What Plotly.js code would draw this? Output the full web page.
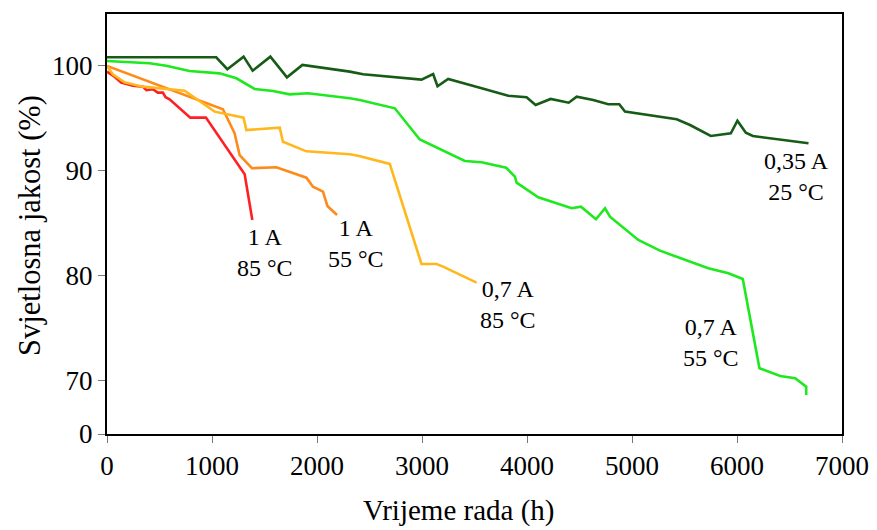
<!DOCTYPE html>
<html>
<head>
<meta charset="utf-8">
<script src="https://cdn.plot.ly/plotly-3.0.1.min.js"></script>
<style>html,body{margin:0;padding:0;background:#fff;}#chart{width:877px;height:530px;}</style>
</head>
<body>
<div id="chart"></div>
<script>
// 0,35 A / 25 °C
const x_035_25 = [0, 1040, 1146, 1301, 1387, 1556, 1714, 1861, 2312, 2439, 2995, 3106, 3148, 3249, 3551, 3821, 3996, 4082, 4225, 4397, 4473, 4631, 4774, 4879, 4933, 5426, 5553, 5750, 5941, 6004, 6084, 6151, 6681];
const y_035_25 = [100.83, 100.83, 99.69, 100.89, 99.55, 100.89, 98.92, 100.1, 99.46, 99.21, 98.70, 99.24, 98.07, 98.76, 97.93, 97.17, 97.02, 96.29, 96.86, 96.50, 97.08, 96.76, 96.35, 96.35, 95.65, 94.92, 94.38, 93.33, 93.59, 94.79, 93.65, 93.33, 92.64];
// 0,7 A / 55 °C
const x_07_55 = [0, 405, 564, 786, 1072, 1232, 1406, 1581, 1740, 1914, 2312, 2407, 2741, 2979, 3408, 3567, 3802, 3885, 3901, 4107, 4425, 4514, 4657, 4743, 4790, 5060, 5266, 5727, 5918, 6055, 6214, 6411, 6554, 6659, 6659];
const y_07_55 = [100.48, 100.26, 100.03, 99.52, 99.30, 98.83, 97.81, 97.62, 97.30, 97.40, 96.92, 96.76, 95.97, 93.0, 90.95, 90.83, 90.31, 89.46, 88.89, 87.50, 86.45, 86.60, 85.40, 86.45, 85.65, 83.43, 82.41, 80.73, 80.26, 79.71, 71.21, 70.48, 70.26, 69.46, 68.67];
// 0,7 A / 85 °C
const x_07_85 = [0, 55, 167, 341, 739, 1025, 1301, 1327, 1645, 1676, 1899, 2312, 2391, 2693, 2995, 3138, 3201, 3520];
const y_07_85 = [100, 99.21, 98.45, 98.03, 97.65, 95.65, 95.08, 93.90, 94.12, 92.79, 91.87, 91.59, 91.46, 90.67, 81.14, 81.14, 80.89, 79.36];
// 1 A / 55 °C
const x_1_55 = [0, 1104, 1215, 1263, 1380, 1613, 1899, 1962, 2057, 2099, 2191];
const y_1_55 = [100, 95.88, 93.59, 91.52, 90.26, 90.35, 89.36, 88.50, 88.03, 86.67, 85.81];
// 1 A / 85 °C
const x_1_85 = [0, 71, 135, 183, 246, 341, 375, 437, 484, 532, 558, 596, 793, 942, 1311, 1384];
const y_1_85 = [99.46, 98.98, 98.41, 98.26, 98.12, 98.03, 97.71, 97.78, 97.46, 97.46, 97.02, 96.83, 95.08, 95.08, 89.69, 85.33];

const yTickVals = [64.95, 70, 80, 90, 100];
const yTickText = ['0', '70', '80', '90', '100'];
const xTickVals = [0, 1000, 2000, 3000, 4000, 5000, 6000, 7000];

const labels = [
  {x: 6563, y: 89.43, text: '0,35 A<br>25 °C'},
  {x: 1501, y: 82.19, text: '1 A<br>85 °C'},
  {x: 2369, y: 83.14, text: '1 A<br>55 °C'},
  {x: 3818, y: 77.24, text: '0,7 A<br>85 °C'},
  {x: 5754, y: 73.62, text: '0,7 A<br>55 °C'}
];
const xTitle = 'Vrijeme rada (h)';
const yTitle = 'Svjetlosna jakost (%)';

const FONT = 'Liberation Serif';
function tr(x, y, color) {
  return {x: x, y: y, type: 'scatter', mode: 'lines', line: {color: color, width: 2.6}, hoverinfo: 'skip', showlegend: false};
}
const data = [
  tr(x_1_85, y_1_85, '#ff2121'),
  tr(x_1_55, y_1_55, '#ff8a1c'),
  tr(x_07_85, y_07_85, '#ffb81c'),
  tr(x_07_55, y_07_55, '#1ee81e'),
  tr(x_035_25, y_035_25, '#165c16')
];

const annotations = labels.map(l => ({
  x: l.x, y: l.y, xref: 'x', yref: 'y', text: l.text, showarrow: false,
  font: {family: FONT, size: 24, color: '#000'}, align: 'center',
  xanchor: 'center', yanchor: 'middle'
}));
annotations.push({
  xref: 'paper', yref: 'paper', x: 0.479, y: -0.181, text: xTitle, showarrow: false,
  xanchor: 'center', yanchor: 'middle', font: {family: FONT, size: 29, color: '#000'}
});
annotations.push({
  xref: 'paper', yref: 'paper', x: -0.1048, y: 0.4976, text: yTitle, showarrow: false, textangle: -90,
  xanchor: 'center', yanchor: 'middle', font: {family: FONT, size: 30.5, color: '#000'}
});

const layout = {
  width: 877, height: 530,
  margin: {l: 107, r: 35, t: 14, b: 96},
  paper_bgcolor: '#ffffff', plot_bgcolor: '#ffffff',
  font: {family: FONT, color: '#000', size: 26},
  showlegend: false,
  xaxis: {
    range: [0, 7000], tickvals: xTickVals, ticktext: xTickVals.map(String),
    showgrid: false, zeroline: false,
    showline: true, linecolor: '#000', linewidth: 2, mirror: true,
    ticks: 'outside', ticklen: 7, tickwidth: 1, tickcolor: '#777',
    tickfont: {family: FONT, size: 27, color: '#000'},
    automargin: false
  },
  yaxis: {
    range: [64.95, 104.95], tickvals: yTickVals, ticktext: yTickText,
    showgrid: false, zeroline: false,
    showline: true, linecolor: '#000', linewidth: 2, mirror: true,
    ticks: 'outside', ticklen: 7, tickwidth: 1, tickcolor: '#777',
    tickfont: {family: FONT, size: 27, color: '#000'},
    automargin: false
  },
  annotations: annotations
};

Plotly.newPlot('chart', data, layout, {displayModeBar: false, staticPlot: true});
</script>
</body>
</html>
